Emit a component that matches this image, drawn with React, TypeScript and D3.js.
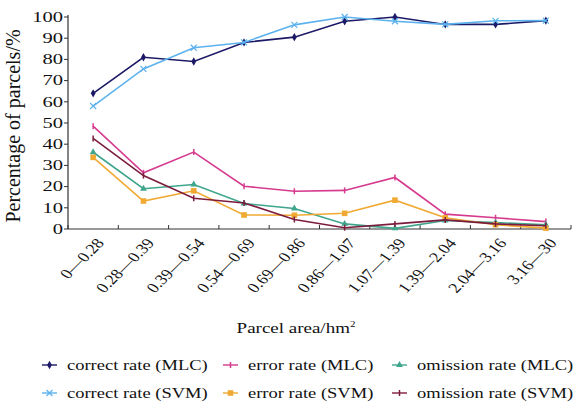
import React from "react";
import * as d3 from "d3";

const categories = ["0—0.28", "0.28—0.39", "0.39—0.54", "0.54—0.69", "0.69—0.86", "0.86—1.07", "1.07—1.39", "1.39—2.04", "2.04—3.16", "3.16—30"];
const correctMLC = [64, 81, 79, 88, 90.5, 98, 100, 96.5, 96.5, 98.3];
const correctSVM = [58, 75.5, 85.5, 88, 96.3, 100, 98, 96.5, 98.2, 98.3];
const errorMLC = [48.5, 26.5, 36.3, 20.2, 17.8, 18.2, 24.3, 7, 5.3, 3.5];
const omissionMLC = [36.2, 19, 21, 12, 9.7, 2.4, 0.3, 4, 3, 2];
const errorSVM = [33.8, 13.2, 18, 6.6, 6.5, 7.4, 13.6, 5.3, 2, 0.4];
const omissionSVM = [42.7, 25.2, 14.5, 12.3, 4.5, 0.6, 2.4, 4.3, 2.4, 1.5];
const yTicks = [0, 10, 20, 30, 40, 50, 60, 70, 80, 90, 100];

const seriesNames = ["correct rate (MLC)", "error rate (MLC)", "omission rate (MLC)", "correct rate (SVM)", "error rate (SVM)", "omission rate (SVM)"];
const seriesValues = [correctMLC, errorMLC, omissionMLC, correctSVM, errorSVM, omissionSVM];
const seriesColors = ["#1c1a66", "#d63a8e", "#3fa58c", "#5db2ee", "#f0aa34", "#7c1c3c"];
const seriesMarkers = ["diamond", "dash", "triangle", "cross", "square", "dash"];

const W = 579, H = 407;
const left = 68, right = 571, top = 17, bottom = 229;
const FONT = "'Liberation Serif', 'Times New Roman', serif";

function Marker({ type, x, y, color }: { type: string; x: number; y: number; color: string }) {
  if (type === "diamond") {
    const s = d3.symbol(d3.symbolDiamond, 20)();
    return <path d={s as string} transform={`translate(${x},${y})`} fill={color} />;
  }
  if (type === "triangle") {
    const s = d3.symbol(d3.symbolTriangle, 20)();
    return <path d={s as string} transform={`translate(${x},${y})`} fill={color} />;
  }
  if (type === "square") {
    return <rect x={x - 2.8} y={y - 2.8} width={5.6} height={5.6} fill={color} />;
  }
  if (type === "cross") {
    return (
      <g stroke={color} strokeWidth={1.2}>
        <line x1={x - 3} y1={y - 3} x2={x + 3} y2={y + 3} />
        <line x1={x - 3} y1={y + 3} x2={x + 3} y2={y - 3} />
      </g>
    );
  }
  return <line x1={x} y1={y - 3} x2={x} y2={y + 3} stroke={color} strokeWidth={1.5} />;
}

export default function App() {
  const x = d3.scaleBand<string>().domain(categories).range([left, right]);
  const y = d3.scaleLinear().domain([0, 100]).range([bottom, top]);
  const cx = (c: string) => (x(c) as number) + x.bandwidth() / 2;
  const line = d3
    .line<number>()
    .x((_, i) => cx(categories[i]))
    .y((v) => y(v));

  const boundaries = categories.map((c) => x(c) as number).concat([right]);

  const legendCols = [42, 223, 392];
  const legendRows = [365, 393];

  return (
    <svg width={W} height={H} style={{ position: "absolute", left: 0, top: 0, background: "#fff" }} fontFamily={FONT}>
      <rect width={W} height={H} fill="#fff" />
      {/* y axis */}
      <line x1={left} y1={top - 2} x2={left} y2={bottom} stroke="#333" strokeWidth={1.2} />
      {yTicks.map((t) => (
        <g key={t}>
          <line x1={left - 4} x2={left} y1={y(t)} y2={y(t)} stroke="#333" />
          <text transform={`translate(${left - 5},${y(t)}) scale(1,0.68)`} dy="0.35em" textAnchor="end" fontSize={20.5} fill="#111">
            {t}
          </text>
        </g>
      ))}
      {/* x axis */}
      <line x1={left} y1={bottom} x2={right} y2={bottom} stroke="#333" strokeWidth={1.2} />
      {boundaries.map((b, i) => (
        <line key={i} x1={b} x2={b} y1={bottom - 4} y2={bottom} stroke="#333" />
      ))}
      {categories.map((c) => (
        <text
          key={c}
          transform={`translate(${cx(c) + 2},${bottom + 8}) scale(1,0.8) rotate(-51)`}
          textAnchor="end"
          dy="0.7em"
          fontSize={18}
          fill="#111"
        >
          {c}
        </text>
      ))}
      <text transform={`translate(296,333) scale(1,0.8)`} textAnchor="middle" fontSize={19} fill="#111">
        Parcel area/hm
        <tspan dy={-8} fontSize={11}>2</tspan>
      </text>
      <text transform={`translate(20,${(top + bottom) / 2 + 3}) rotate(-90)`} textAnchor="middle" fontSize={20} fill="#111">
        Percentage of parcels/%
      </text>
      {/* series */}
      {seriesValues.map((vals, si) => (
        <g key={si}>
          <path d={line(vals) as string} fill="none" stroke={seriesColors[si]} strokeWidth={1.6} />
          {vals.map((v, i) => (
            <Marker key={i} type={seriesMarkers[si]} x={cx(categories[i])} y={y(v)} color={seriesColors[si]} />
          ))}
        </g>
      ))}
      {/* legend */}
      {seriesNames.map((n, i) => {
        const col = i % 3;
        const row = Math.floor(i / 3);
        const lx = legendCols[col];
        const ly = legendRows[row];
        return (
          <g key={n}>
            <line x1={lx} x2={lx + 15} y1={ly} y2={ly} stroke={seriesColors[i]} strokeWidth={1.4} />
            <Marker type={seriesMarkers[i]} x={lx + 7.5} y={ly} color={seriesColors[i]} />
            <text transform={`translate(${lx + 25},${ly}) scale(1,0.8)`} dy="0.35em" fontSize={18.5} fill="#111">
              {n}
            </text>
          </g>
        );
      })}
    </svg>
  );
}
